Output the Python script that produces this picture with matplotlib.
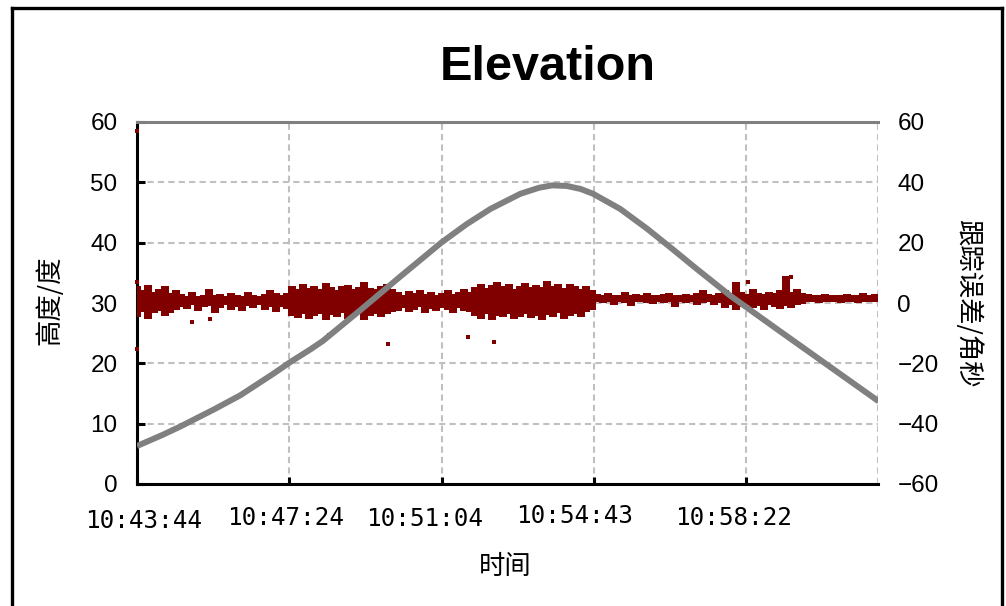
import numpy as np
import matplotlib
matplotlib.use("Agg")
import matplotlib.pyplot as plt
from matplotlib.lines import Line2D
from matplotlib.transforms import offset_copy

plt.rcParams['font.family'] = ['Liberation Sans', 'DejaVu Sans']

# ---------------- data ----------------
title = "Elevation"
x_label = "时间"
y_left_label = "高度/度"
y_right_label = "跟踪误差/角秒"

x_tick_seconds = [0, 220, 440, 659, 878]
x_tick_labels = ["10:43:44", "10:47:24", "10:51:04", "10:54:43", "10:58:22"]
x_end_seconds = 1069
left_ticks = [0, 10, 20, 30, 40, 50, 60]
right_ticks = [-60, -40, -20, 0, 20, 40, 60]

# elevation (deg) vs seconds after 10:43:44
elev_t = [0, 38, 62, 110, 149, 173, 197, 221, 250, 268, 322, 380, 440, 476, 510,
          553, 580, 599, 620, 640, 658, 697, 736, 774, 808, 856, 929, 1005, 1070]
elev_v = [6.3, 8.2, 9.5, 12.3, 14.7, 16.5, 18.3, 20.2, 22.3, 23.7, 28.8, 34.4, 40.1, 43.1, 45.6,
          48.1, 49.1, 49.5, 49.4, 48.9, 48.1, 45.6, 42.3, 38.8, 35.6, 31.2, 25.2, 19.0, 13.7]

# tracking error envelope (arcsec), one sample every 8 s
err_step_s = 8
err_hi = [
    5.8, 4.2, 6.0, 3.6, 4.8, 5.5, 3.2, 4.4,
    3.0, 2.4, 3.6, 2.2, 2.8, 4.6, 2.6, 3.0, 2.2, 3.4, 2.6, 2.4, 3.8, 2.8, 2.2, 3.0, 4.2, 3.2, 2.6, 3.4,
    5.6, 4.8, 6.2, 5.0, 5.8, 4.6, 6.6, 5.2, 4.4, 5.8, 6.0, 4.8, 5.4, 6.8, 5.0, 4.6, 5.6, 6.2, 4.8,
    3.6, 2.8, 4.0, 3.2, 4.4, 3.0, 3.8, 2.6, 3.4, 4.2, 3.0, 3.6, 4.6, 3.8,
    5.4, 6.4, 5.0, 6.0, 7.0, 5.6, 6.2, 4.8, 5.8, 6.6, 5.2, 6.0, 5.4, 7.2, 5.8, 6.4, 5.0, 6.2, 5.6, 4.8, 5.8, 4.4,
    3.0, 2.6, 3.2, 2.8, 2.6, 3.6, 2.8, 3.0, 2.6, 3.2, 2.8, 2.6, 3.0, 3.4, 2.8, 2.6, 3.0, 2.8, 3.2, 4.2, 3.0, 2.8, 3.4,
    4.4, 3.2, 7.0, 3.6, 3.0, 4.8, 3.4, 3.0, 3.8, 3.2, 4.2, 9.0, 3.6, 4.6, 3.2,
    3.0, 2.8, 2.6, 3.0, 2.8, 2.6, 2.8, 3.0, 2.6, 2.8, 3.2, 2.8, 3.0,
]
err_lo = [
    -4.6, -3.0, -5.2, -3.4, -2.6, -4.2, -3.2, -2.4,
    -1.2, -2.0, -0.8, -2.6, -1.4, -1.0, -3.2, -1.6, -0.8, -2.2, -1.2, -2.8, -1.0, -1.8, -0.6, -2.4, -1.2, -3.0, -1.4, -2.0,
    -4.2, -5.0, -3.6, -5.4, -4.4, -3.8, -5.6, -4.0, -4.8, -3.4, -5.2, -4.6, -3.8, -5.8, -4.2, -3.6, -4.8, -3.8, -3.0,
    -2.6, -1.8, -3.0, -2.2, -1.4, -3.2, -2.0, -2.8, -1.6, -2.4, -3.4, -1.8, -2.6, -3.0,
    -4.4, -5.2, -3.8, -5.6, -4.2, -4.8, -3.6, -5.4, -4.6, -3.8, -5.0, -4.2, -5.8, -4.0, -4.6, -3.4, -5.2, -4.4, -3.6, -4.8, -3.0, -2.4,
    0.2, 0.0, 0.4, -0.6, 0.2, 0.0, -1.0, 0.2, 0.4, 0.0, -0.4, 0.2, 0.0, 0.4, -1.2, 0.2, 0.0, 0.2, -0.8, 0.0, 0.2, -0.6, 0.0,
    -1.6, -0.8, -2.2, -1.2, -0.6, -1.8, -1.0, -2.4, -0.8, -1.4, -2.0, -1.0, -1.6, -0.8, -0.4,
    0.2, 0.4, 0.0, 0.2, 0.4, 0.2, 0.0, 0.4, 0.2, 0.0, 0.4, 0.2, 0.2,
]
# isolated tracking-error outliers
out_t = [0, 0, 0, 79, 105, 277, 362, 477, 515, 881, 943]
out_v = [57, -15.3, 7, -6.3, -5.3, -10.7, -13.7, -11.3, -13, 7, 8.7]

# ---------------- style ----------------
W, H = 1006, 606
GRAY = "#808080"
GRID = "#c0c0c0"
RED = "#800000"

fig = plt.figure(figsize=(W / 100, H / 100), dpi=100)
fig.patch.set_facecolor("white")

ax = fig.add_axes([137 / W, 122 / H, 741 / W, 362 / H])
ax2 = ax.twinx()

ax.set_xlim(0, x_end_seconds)
ax.set_ylim(0, 60)
ax2.set_ylim(-60, 60)
ax.set_xticks(x_tick_seconds)
ax.set_xticklabels(x_tick_labels)
ax.set_yticks(left_ticks)
ax2.set_yticks(right_ticks)
ax.grid(True, color=GRID, linestyle=(0, (3, 2)), linewidth=1.5, zorder=0)
ax.axvline(x_end_seconds, color=GRID, linestyle=(0, (3, 2)), linewidth=1.5, zorder=0)

# tracking error band (right axis, drawn above the grid)
err_t = np.arange(len(err_hi)) * err_step_s
ax2.vlines(err_t, err_lo, err_hi, color=RED, linewidth=4.4, capstyle="butt",
           antialiased=False, zorder=2)
ax2.plot(out_t, out_v, "s", color=RED, markersize=3, markeredgewidth=0, zorder=2,
         clip_on=False)

# elevation curve (left-axis scale, drawn on top)
ax2.plot(elev_t, elev_v, color=GRAY, linewidth=4.3, solid_capstyle="butt",
         solid_joinstyle="round", zorder=3, transform=ax.transData)
ax2.set_ylim(-60, 60)
ax2.set_xlim(0, x_end_seconds)

# spines
for s in ["left", "bottom"]:
    ax.spines[s].set_color("black")
    ax.spines[s].set_linewidth(2.2)
ax.spines["top"].set_color(GRAY)
ax.spines["top"].set_linewidth(2.2)
ax.spines["right"].set_visible(False)
for s in ax2.spines.values():
    s.set_visible(False)

ax.tick_params(axis="y", direction="in", length=6, width=2.2, color="black",
               labelsize=17.5, pad=14)
ax.tick_params(axis="x", direction="in", length=5, width=2.2, color="black",
               labelsize=17.5, pad=17)
# per-label placement offsets (px) as in the original rendering
lab_dx = [7, -4, -17, -19, -12]
lab_dy = [-1, 2, 1, 4, 2]
for lab, dx, dy in zip(ax.get_xticklabels(), lab_dx, lab_dy):
    lab.set_fontfamily(["DejaVu Sans Mono"])
    lab.set_transform(offset_copy(lab.get_transform(), fig=fig, x=dx, y=dy, units="dots"))
ax2.tick_params(axis="y", length=0, labelsize=17.5, pad=14)

# texts
fig.text(548 / W, 1 - 68 / H, title, ha="center", va="center",
         fontsize=35, fontweight="bold", family=["Liberation Sans", "DejaVu Sans"])
fig.text(505 / W, 1 - 567 / H, x_label, ha="center", va="center",
         fontsize=19, family=["Noto Sans CJK SC", "DejaVu Sans"])
fig.text(50 / W, 1 - 300 / H, y_left_label, ha="center", va="center", rotation=90,
         fontsize=19, family=["Noto Sans CJK SC", "DejaVu Sans"])
fig.text(968 / W, 1 - 303 / H, y_right_label, ha="center", va="center", rotation=-90,
         fontsize=19, family=["Noto Sans CJK SC", "DejaVu Sans"])

# outer frame
lw_frame = 2.4
fig.add_artist(Line2D([11.5 / W, 11.5 / W], [0, 1 - 7.5 / H], color="black", linewidth=lw_frame,
                      transform=fig.transFigure))
fig.add_artist(Line2D([11.5 / W, 1001.5 / W], [1 - 7.5 / H, 1 - 7.5 / H], color="black",
                      linewidth=lw_frame, transform=fig.transFigure))
fig.add_artist(Line2D([1001.5 / W, 1001.5 / W], [0, 1 - 7.5 / H], color="black", linewidth=lw_frame,
                      transform=fig.transFigure))

fig.savefig("out.png", dpi=100)
